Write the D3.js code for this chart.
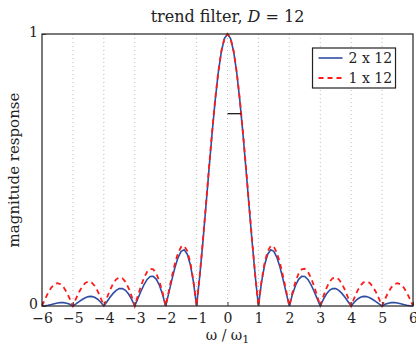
<!DOCTYPE html>
<html>
<head>
<meta charset="utf-8">
<script src="https://cdn.jsdelivr.net/npm/d3@7"></script>
<style>
  body { margin: 0; background: #fff; }
  text { font-family: "DejaVu Serif", "Liberation Serif", serif; fill: #222; }
</style>
</head>
<body>
<div id="canvas"></div>
<script>
// frequency grid, omega / omega_1
const xs = [-6.0,-5.9,-5.8,-5.7,-5.6,-5.5,-5.4,-5.3,-5.2,-5.1,-5.0,-4.9,-4.8,-4.7,-4.6,-4.5,-4.4,-4.3,-4.2,-4.1,-4.0,-3.9,-3.8,-3.7,-3.6,-3.5,-3.4,-3.3,-3.2,-3.1,-3.0,-2.9,-2.8,-2.7,-2.6,-2.5,-2.4,-2.3,-2.2,-2.1,-2.0,-1.9,-1.8,-1.7,-1.6,-1.5,-1.4,-1.3,-1.2,-1.1,-1.0,-0.9,-0.8,-0.7,-0.6,-0.5,-0.4,-0.3,-0.2,-0.1,0.0,0.1,0.2,0.3,0.4,0.5,0.6,0.7,0.8,0.9,1.0,1.1,1.2,1.3,1.4,1.5,1.6,1.7,1.8,1.9,2.0,2.1,2.2,2.3,2.4,2.5,2.6,2.7,2.8,2.9,3.0,3.1,3.2,3.3,3.4,3.5,3.6,3.7,3.8,3.9,4.0,4.1,4.2,4.3,4.4,4.5,4.6,4.7,4.8,4.9,5.0,5.1,5.2,5.3,5.4,5.5,5.6,5.7,5.8,5.9,6.0];

// 2 x 12 response
const resp2x12 = [0,0.0007,0.0026,0.0053,0.0083,0.0110,0.0125,0.0125,0.0104,0.0062,0,0.0076,0.0159,0.0239,0.0304,0.0345,0.0353,0.0322,0.0250,0.0140,0,0.0158,0.0318,0.0463,0.0576,0.0639,0.0642,0.0576,0.0441,0.0244,0,0.0271,0.0544,0.0789,0.0978,0.1086,0.1091,0.0981,0.0754,0.0420,0,0.0475,0.0961,0.1413,0.1781,0.2012,0.2065,0.1904,0.1507,0.0870,0,0.1073,0.2305,0.3637,0.5005,0.6329,0.7541,0.8567,0.9347,0.9835,1,0.9835,0.9347,0.8567,0.7541,0.6329,0.5005,0.3637,0.2305,0.1073,0,0.0870,0.1507,0.1904,0.2065,0.2012,0.1781,0.1413,0.0961,0.0475,0,0.0420,0.0754,0.0981,0.1091,0.1086,0.0978,0.0789,0.0544,0.0271,0,0.0244,0.0441,0.0576,0.0642,0.0639,0.0576,0.0463,0.0318,0.0158,0,0.0140,0.0250,0.0322,0.0353,0.0345,0.0304,0.0239,0.0159,0.0076,0,0.0062,0.0104,0.0125,0.0125,0.0110,0.0083,0.0053,0.0026,0.0007,0];

// 1 x 12 response
const resp1x12 = [0,0.0258,0.0491,0.0676,0.0797,0.0841,0.0802,0.0686,0.0501,0.0265,0,0.0269,0.0515,0.0715,0.0849,0.0902,0.0868,0.0747,0.0550,0.0293,0,0.0302,0.0584,0.0818,0.0980,0.1050,0.1020,0.0887,0.0659,0.0355,0,0.0374,0.0732,0.1038,0.1259,0.1369,0.1348,0.1190,0.0899,0.0493,0,0.0540,0.1079,0.1566,0.1949,0.2178,0.2212,0.2020,0.1585,0.0907,0,0.1103,0.2356,0.3699,0.5067,0.6384,0.7583,0.8593,0.9360,0.9838,1,0.9838,0.9360,0.8593,0.7583,0.6384,0.5067,0.3699,0.2356,0.1103,0,0.0907,0.1585,0.2020,0.2212,0.2178,0.1949,0.1566,0.1079,0.0540,0,0.0493,0.0899,0.1190,0.1348,0.1369,0.1259,0.1038,0.0732,0.0374,0,0.0355,0.0659,0.0887,0.1020,0.1050,0.0980,0.0818,0.0584,0.0302,0,0.0293,0.0550,0.0747,0.0868,0.0902,0.0849,0.0715,0.0515,0.0269,0,0.0265,0.0501,0.0686,0.0802,0.0841,0.0797,0.0676,0.0491,0.0258,0];

// 3-dB marker: from 0 to the half-power frequency
const halfPowerX = [0, 0.44];
const halfPowerY = 0.7071;

const xTicks = [-6,-5,-4,-3,-2,-1,0,1,2,3,4,5,6];
const yTicks = [0, 1];
const seriesNames = ["2 x 12", "1 x 12"];

const width = 416;
const height = 347;
const margin = { top: 34, left: 42, bottom: 41, right: 3 };
const iwidth = width - margin.left - margin.right;
const iheight = height - margin.top - margin.bottom;

const svg = d3.select("#canvas").append("svg")
    .attr("width", width)
    .attr("height", height);

const g = svg.append("g").attr("transform", `translate(${margin.left},${margin.top})`);

const x = d3.scaleLinear().domain([-6, 6]).range([0, iwidth]);
const y = d3.scaleLinear().domain([0, 1]).range([iheight, 0]);

// dotted vertical grid
g.selectAll("line.grid").data(xTicks.slice(1, -1)).enter().append("line")
    .attr("class", "grid")
    .attr("x1", d => x(d)).attr("x2", d => x(d))
    .attr("y1", 0).attr("y2", iheight)
    .attr("stroke", "#aaa")
    .attr("stroke-width", 0.8)
    .attr("stroke-dasharray", "1,3");

// curves
const line = d3.line()
    .x((d, i) => x(xs[i]))
    .y(d => y(d));

g.append("path")
    .datum(resp2x12)
    .attr("fill", "none")
    .attr("stroke", "#2f4ea3")
    .attr("stroke-width", 1.6)
    .attr("d", line);

g.append("path")
    .datum(resp1x12)
    .attr("fill", "none")
    .attr("stroke", "#ff1a1a")
    .attr("stroke-width", 1.8)
    .attr("stroke-dasharray", "5,4")
    .attr("d", line);

// half-power marker
g.append("line")
    .attr("x1", x(halfPowerX[0])).attr("x2", x(halfPowerX[1]))
    .attr("y1", y(halfPowerY)).attr("y2", y(halfPowerY))
    .attr("stroke", "#222")
    .attr("stroke-width", 1.3);

// axes
const xAxis = g.append("g")
    .attr("transform", `translate(0, ${iheight})`)
    .call(d3.axisBottom(x).tickValues(xTicks).tickSize(-4).tickPadding(7)
        .tickFormat(d => d < 0 ? "\u2212" + Math.abs(d) : d));
xAxis.select(".domain").remove();
xAxis.selectAll("line").attr("stroke", "#444");
xAxis.selectAll("text").style("font-size", "14px").attr("fill", "#222");

const yAxis = g.append("g")
    .call(d3.axisLeft(y).tickValues(yTicks).tickSize(-4).tickPadding(4)
        .tickFormat(d3.format("d")));
yAxis.select(".domain").remove();
yAxis.selectAll("line").attr("stroke", "#444");
yAxis.selectAll("text").style("font-size", "14px").attr("fill", "#222")
    .attr("dy", "0.2em");

// frame
g.append("rect")
    .attr("x", 0).attr("y", 0)
    .attr("width", iwidth).attr("height", iheight)
    .attr("fill", "none")
    .attr("stroke", "#222")
    .attr("stroke-width", 1.2);

// legend
const legend = g.append("g").attr("transform", `translate(${x(2.75)}, 14)`);
legend.append("rect")
    .attr("width", 83).attr("height", 40)
    .attr("fill", "#fff")
    .attr("stroke", "#222")
    .attr("stroke-width", 1.2);
const legendStyles = [
    { color: "#2f4ea3", dash: null, w: 1.6 },
    { color: "#ff1a1a", dash: "5,4", w: 1.8 }
];
seriesNames.forEach((name, i) => {
    legend.append("line")
        .attr("x1", 6).attr("x2", 30)
        .attr("y1", 10 + i * 20).attr("y2", 10 + i * 20)
        .attr("stroke", legendStyles[i].color)
        .attr("stroke-width", legendStyles[i].w)
        .attr("stroke-dasharray", legendStyles[i].dash);
    legend.append("text")
        .attr("x", 36).attr("y", 15 + i * 20)
        .style("font-size", "14px")
        .text(name);
});

// title
const title = svg.append("text")
    .attr("text-anchor", "middle")
    .attr("x", margin.left + iwidth / 2)
    .attr("y", 22)
    .style("font-size", "16px");
title.append("tspan").text("trend filter,  ");
title.append("tspan").style("font-style", "italic").text("D");
title.append("tspan").text(" = 12");

// x label
const xl = svg.append("text")
    .attr("text-anchor", "middle")
    .attr("x", margin.left + iwidth / 2)
    .attr("y", 340)
    .style("font-size", "14px");
xl.append("tspan").text("\u03c9 / \u03c9");
xl.append("tspan").attr("dy", 3).style("font-size", "11px").text("1");

// y label
svg.append("text")
    .attr("text-anchor", "middle")
    .attr("transform", `translate(19, ${margin.top + iheight / 2}) rotate(-90)`)
    .style("font-size", "15px")
    .text("magnitude response");
</script>
</body>
</html>
